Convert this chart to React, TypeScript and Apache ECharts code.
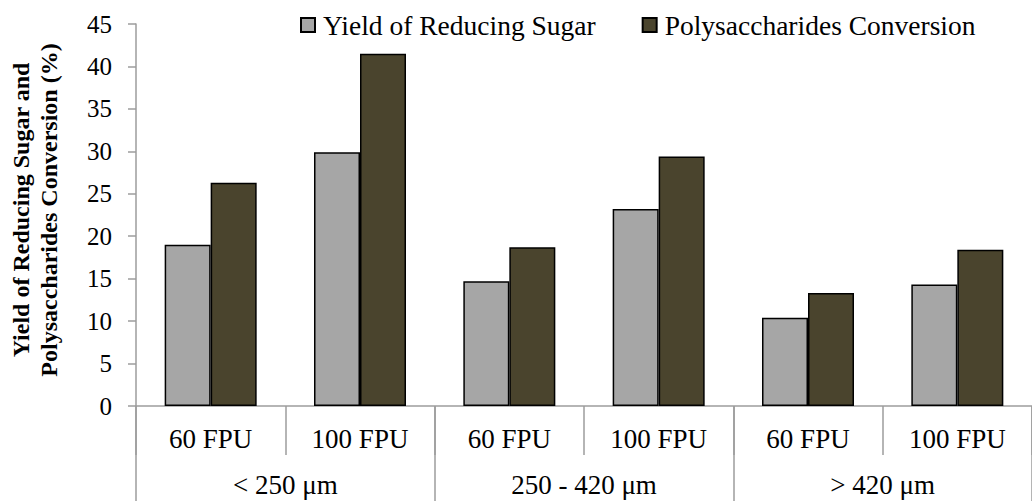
import React, { useEffect, useRef } from "react";
import * as echarts from "echarts";

const enzymeLoads = ["60 FPU", "100 FPU", "60 FPU", "100 FPU", "60 FPU", "100 FPU"];
const particleSizes = ["< 250 μm", "250 - 420 μm", "> 420 μm"];
const yieldReducingSugar = [19.0, 29.9, 14.7, 23.2, 10.4, 14.3];
const polysaccharidesConversion = [26.3, 41.5, 18.7, 29.4, 13.3, 18.4];
const seriesNames = ["Yield of Reducing Sugar", "Polysaccharides Conversion"];
const yTitle = "Yield of Reducing Sugar and\nPolysaccharides Conversion (%)";

const FONT = "'Liberation Serif', 'Times New Roman', serif";
const AXIS_COLOR = "#9d9d9d";

export default function App() {
  const ref = useRef<HTMLDivElement>(null);
  useEffect(() => {
    if (!ref.current) return;
    const chart = echarts.init(ref.current, undefined, { renderer: "svg" });
    chart.setOption({
      animation: false,
      backgroundColor: "#ffffff",
      textStyle: { fontFamily: FONT, color: "#000" },
      legend: {
        left: 300,
        top: 11,
        padding: 0,
        itemWidth: 14,
        itemHeight: 14,
        itemGap: 46,
        icon: "rect",
        textStyle: { fontFamily: FONT, fontSize: 27.5, color: "#000", padding: [0, 0, 0, 3] },
        data: seriesNames,
      },
      grid: { left: 136, top: 24, width: 912, height: 382, containLabel: false },
      xAxis: [
        {
          type: "category",
          data: enzymeLoads,
          position: "bottom",
          axisLine: { show: true, lineStyle: { color: AXIS_COLOR, width: 1.5 } },
          axisTick: { show: true, interval: 0, length: 49, lineStyle: { color: AXIS_COLOR, width: 1.5 } },
          axisLabel: { interval: 0, margin: 19, fontFamily: FONT, fontSize: 27, color: "#000" },
        },
        {
          type: "category",
          data: particleSizes,
          position: "bottom",
          axisLine: { show: false },
          axisTick: { show: true, interval: 0, length: 110, lineStyle: { color: AXIS_COLOR, width: 1.5 } },
          axisLabel: { interval: 0, margin: 65, fontFamily: FONT, fontSize: 27, color: "#000" },
        },
      ],
      yAxis: {
        type: "value",
        min: 0,
        max: 45,
        interval: 5,
        axisLine: { show: true, lineStyle: { color: AXIS_COLOR, width: 1.5 } },
        axisTick: { show: true, length: 8, lineStyle: { color: AXIS_COLOR, width: 1.5 } },
        splitLine: { show: false },
        axisLabel: { margin: 24, fontFamily: FONT, fontSize: 25, color: "#000" },
      },
      graphic: [
        {
          type: "text",
          x: 35,
          y: 210,
          rotation: Math.PI / 2,
          style: {
            text: yTitle,
            font: `bold 24px ${FONT}`,
            fill: "#000",
            align: "center",
            verticalAlign: "middle",
            lineHeight: 28,
          },
        },
      ],
      series: [
        {
          name: seriesNames[0],
          type: "bar",
          xAxisIndex: 0,
          data: yieldReducingSugar,
          barWidth: 46,
          barGap: "0%",
          itemStyle: { color: "#a6a6a6", borderColor: "#000", borderWidth: 1.5 },
        },
        {
          name: seriesNames[1],
          type: "bar",
          xAxisIndex: 0,
          data: polysaccharidesConversion,
          barWidth: 46,
          barGap: "0%",
          itemStyle: { color: "#4a442d", borderColor: "#000", borderWidth: 1.5 },
        },
      ],
    });
    return () => chart.dispose();
  }, []);
  return <div ref={ref} style={{ width: 1032, height: 501, position: "absolute", left: 0, top: 0 }} />;
}
